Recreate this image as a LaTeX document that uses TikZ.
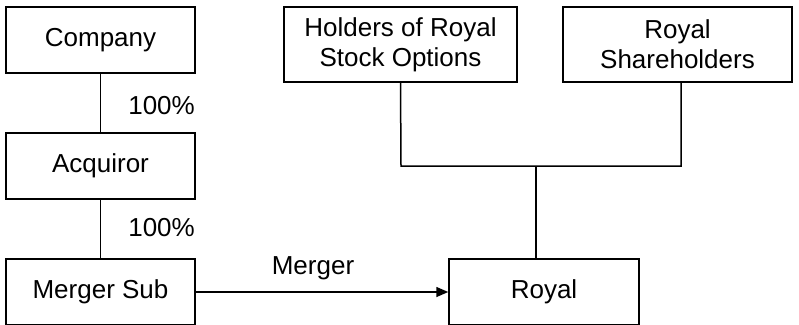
\documentclass[tikz,border=0pt]{standalone}
\usepackage{fontspec}
\setmainfont{Liberation Sans}
\usetikzlibrary{arrows.meta}
\begin{document}
\begin{tikzpicture}[x=1pt,y=-1pt,
  box/.style={draw,line width=1.5pt,inner sep=0pt,align=center,font=\fontsize{26}{30}\selectfont},
  lbl/.style={inner sep=0pt,font=\fontsize{26}{30}\selectfont},
  conn/.style={line width=1.5pt}]
\useasboundingbox (0,0) rectangle (799,324);
\fill[white] (0,0) rectangle (799,324);
\node[box,minimum width=189pt,minimum height=66pt] (comp) at (100.5,40) {Company};
\node[box,minimum width=189pt,minimum height=66pt] (acq) at (100.5,166) {Acquiror};
\node[box,minimum width=189pt,minimum height=66pt] (ms) at (100.5,292) {Merger Sub};
\node[box,minimum width=233pt,minimum height=75pt] (hold) at (400.5,44.5) {Holders of Royal\\Stock Options};
\node[box,minimum width=229pt,minimum height=75pt] (sh) at (677.5,44.5) {Royal\\Shareholders};
\node[box,minimum width=190pt,minimum height=66pt] (royal) at (544,292) {Royal};
\coordinate (jl) at (401,166);
\coordinate (jr) at (681,166);
\coordinate (jc) at (536,166);
\draw[conn] (comp) -- (acq);
\draw[conn] (acq) -- (ms);
\draw[conn] (hold.south) -- (jl) -- (jr) -- (sh.south -| jr);
\draw[conn] (jc) -- (royal.north -| jc);
\draw[conn,-{Triangle[length=12pt,width=10pt]}] (ms.east) -- (royal.west);
\node[lbl,anchor=east] (p1) at (195,106) {100\%};
\node[lbl,anchor=east] (p2) at (195,228) {100\%};
\node[lbl] (mg) at (313,268) {Merger};
\end{tikzpicture}
\end{document}
